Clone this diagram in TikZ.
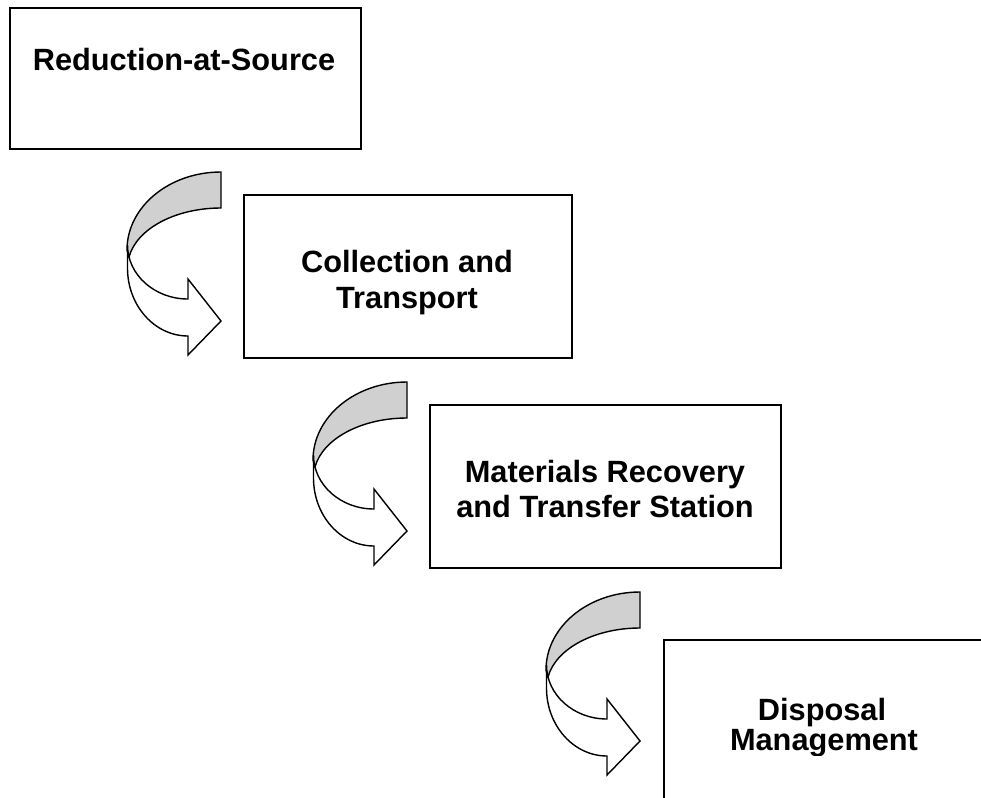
\documentclass[tikz,border=0pt]{standalone}
\usepackage{fontspec}
\setmainfont{Liberation Sans}
\definecolor{bandgray}{RGB}{208,208,208}
\begin{document}
\begin{tikzpicture}[x=0.02cm,y=-0.02cm,
  box/.style={draw=black, line width=1pt, fill=white, rectangle, anchor=north west, inner sep=0pt, outer sep=0pt},
  txt/.style={anchor=base, inner sep=0pt, font=\fontsize{17.5}{21}\selectfont\bfseries},
  band/.style={draw=black, line width=0.8pt, line join=miter},
  curvearrow/.pic={
    \path[band, fill=bandgray] (221,172) .. controls (169.1,172) and (127,206.9) .. (127,250) -- (129,257) .. controls (136.7,228.7) and (175.4,208) .. (221,208) -- cycle;
    \path[band, fill=white] (127.5,245) -- (127.5,268) .. controls (127.5,305.6) and (154.6,336) .. (188,336) -- (188,355) -- (221,321) -- (188,279) -- (188,299) .. controls (154.6,299) and (127.5,274.8) .. (127.5,245) -- cycle;
  }]
\useasboundingbox (0,0) rectangle (981,798);
\clip (0,0) rectangle (981,798);
\fill[white] (0,0) rectangle (981,798);

% boxes
\node[box, minimum width=7.02cm, minimum height=2.82cm] (b1) at (10,8) {};
\node[box, minimum width=6.56cm, minimum height=3.26cm] (b2) at (244,195) {};
\node[box, minimum width=7.02cm, minimum height=3.26cm] (b3) at (430,405) {};
\node[box, minimum width=8cm, minimum height=4cm] (b4) at (664,640) {};

% curved arrows
\pic at (0,0) {curvearrow};
\pic at (186,210) {curvearrow};
\pic at (419,420) {curvearrow};

% texts
\node[txt] (t1) at (184,70) {Reduction-at-Source};
\node[txt] (t2a) at (407,272) {Collection and};
\node[txt] (t2b) at (407,308) {Transport};
\node[txt] (t3a) at (605,482) {Materials Recovery};
\node[txt] (t3b) at (605,517) {and Transfer Station};
\node[txt] (t4a) at (822,720) {Disposal};
\begin{scope}
\clip (0,0) rectangle (981,755);
\node[txt] (t4b) at (824,750) {Management};
\end{scope}
\end{tikzpicture}
\end{document}
